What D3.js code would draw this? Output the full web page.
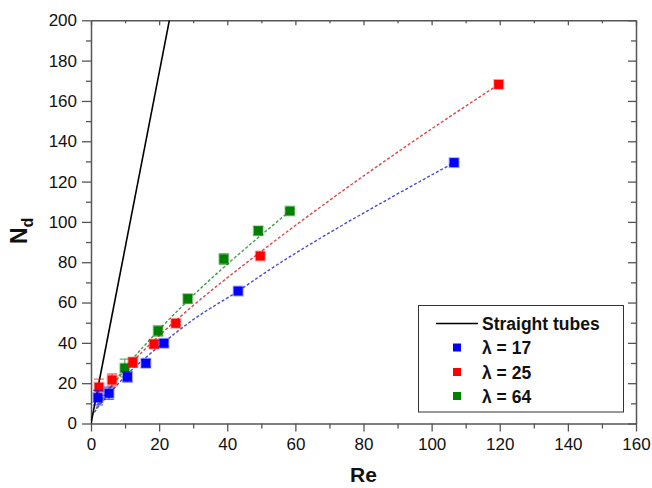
<!DOCTYPE html>
<html><head><meta charset="utf-8">
<script src="https://cdn.jsdelivr.net/npm/d3@7"></script>
<style>body{margin:0;background:#fff}svg{display:block}text{font-family:"Liberation Sans",Arial,sans-serif}</style>
</head><body><svg id="c" width="652" height="488"></svg>
<script>
// ---- data ----
const xTicks = [0, 20, 40, 60, 80, 100, 120, 140, 160];
const yTicks = [0, 20, 40, 60, 80, 100, 120, 140, 160, 180, 200];
const xMinor = [10, 30, 50, 70, 90, 110, 130, 150];
const yMinor = [10, 30, 50, 70, 90, 110, 130, 150, 170, 190];

const straightRe = [0, 23.0];
const straightNd = [0, 200];

const reBlue = [2.05, 5.3, 10.7, 16.1, 21.4, 43.2, 106.6];
const ndBlue = [12.8, 15.0, 23.1, 29.9, 39.8, 65.7, 129.4];
const errBlue = [3.6, 3, 2.5, 1.8, 1.5, 0, 0];

const reRed = [2.35, 6.2, 12.3, 18.5, 24.9, 49.7, 119.7];
const ndRed = [18.0, 21.6, 30.3, 39.4, 49.7, 83.1, 168.2];
const errRed = [4, 3, 2.5, 2, 0.8, 0, 0];

const reGreen = [9.9, 19.7, 28.4, 39.0, 49.1, 58.4];
const ndGreen = [27.5, 45.9, 61.9, 81.6, 95.6, 105.4];
const errGreen = [4.4, 2.5, 2.2, 2.5, 2, 1];

const fitBlueRe = [1.0, 2.0, 5, 10, 20, 30, 43.2, 52.6, 70.2, 88, 106.6];
const fitBlueNd = [5.5, 8.0, 14, 23.3, 38.3, 51.5, 65.7, 76.5, 94.8, 112, 129.4];
const fitRedRe = [1.5, 3, 10, 20, 30, 46.7, 70.2, 95, 119.7];
const fitRedNd = [7.5, 11.5, 26.5, 43.5, 58.5, 81.1, 110.9, 140.4, 168.2];
const fitGreenRe = [1.5, 5, 10, 20, 30, 40, 50, 58.4];
const fitGreenNd = [7.2, 16.3, 27.5, 46.5, 63.5, 79, 93.5, 105.4];

const legendLabels = ["Straight tubes", "\u03bb = 17", "\u03bb = 25", "\u03bb = 64"];
const colBlue = "#0000ff", colRed = "#ff0000", colGreen = "#008000";

// ---- chart ----
const svg = d3.select("#c");
const L = 91, R = 636, T = 20.3, B = 423.5;
const x = d3.scaleLinear().domain([0, 160]).range([L, R]);
const y = d3.scaleLinear().domain([0, 200]).range([B, T]);
const axCol = "#555";

function styleAxis(g){
  g.select(".domain").attr("stroke", axCol).attr("stroke-width", 1.5);
  g.selectAll(".tick line").attr("stroke", axCol).attr("stroke-width", 1.3);
  g.selectAll(".tick text").attr("fill", "#111").style("font-size", "17px").style("font-family", "Liberation Sans, Arial, sans-serif");
}
// bottom
const gb = svg.append("g").attr("transform", `translate(0,${B})`)
  .call(d3.axisBottom(x).tickValues(xTicks).tickSize(8).tickSizeOuter(0).tickPadding(6));
styleAxis(gb);
svg.append("g").attr("transform", `translate(0,${B})`)
  .call(d3.axisBottom(x).tickValues(xMinor).tickSize(5).tickFormat("")).call(g=>{g.select(".domain").remove();g.selectAll("line").attr("stroke",axCol).attr("stroke-width",1.3);});
// left
const gl = svg.append("g").attr("transform", `translate(${L},0)`)
  .call(d3.axisLeft(y).tickValues(yTicks).tickSize(9).tickSizeOuter(0).tickPadding(5));
styleAxis(gl);
svg.append("g").attr("transform", `translate(${L},0)`)
  .call(d3.axisLeft(y).tickValues(yMinor).tickSize(5).tickFormat("")).call(g=>{g.select(".domain").remove();g.selectAll("line").attr("stroke",axCol).attr("stroke-width",1.3);});
// top (inward)
const gt = svg.append("g").attr("transform", `translate(0,${T})`)
  .call(d3.axisBottom(x).tickValues(xTicks).tickSize(5).tickSizeOuter(0).tickFormat(""));
styleAxis(gt);
svg.append("g").attr("transform", `translate(0,${T})`)
  .call(d3.axisBottom(x).tickValues(xMinor).tickSize(3).tickFormat("")).call(g=>{g.select(".domain").remove();g.selectAll("line").attr("stroke",axCol).attr("stroke-width",1.3);});
// right (inward)
const gr = svg.append("g").attr("transform", `translate(${R},0)`)
  .call(d3.axisLeft(y).tickValues(yTicks).tickSize(8).tickSizeOuter(0).tickFormat(""));
styleAxis(gr);
svg.append("g").attr("transform", `translate(${R},0)`)
  .call(d3.axisLeft(y).tickValues(yMinor).tickSize(5).tickFormat("")).call(g=>{g.select(".domain").remove();g.selectAll("line").attr("stroke",axCol).attr("stroke-width",1.3);});

// axis titles
svg.append("text").attr("x", (L + R) / 2).attr("y", 482).attr("text-anchor", "middle")
  .style("font-size", "21px").style("font-weight", "bold").attr("fill", "#111").text("Re");
const yl = svg.append("text").attr("transform", `translate(27,${(T + B) / 2 + 9}) rotate(-90)`)
  .attr("text-anchor", "middle").style("font-weight", "bold").attr("fill", "#111");
yl.append("tspan").style("font-size", "23px").text("N");
yl.append("tspan").style("font-size", "16px").attr("dy", 6).text("d");

// plot clip
svg.append("clipPath").attr("id", "clip").append("rect").attr("x", L).attr("y", T).attr("width", R - L).attr("height", B - T);
const plot = svg.append("g").attr("clip-path", "url(#clip)");

const line = d3.line().x(d => x(d[0])).y(d => y(d[1]));
// straight tubes
plot.append("path").datum(d3.zip(straightRe, straightNd)).attr("d", line)
  .attr("fill", "none").attr("stroke", "#000").attr("stroke-width", 1.6);

// fit lines
[[fitBlueRe, fitBlueNd, "#4a4ad8"], [fitRedRe, fitRedNd, "#d84a4a"], [fitGreenRe, fitGreenNd, "#4a9a4a"]].forEach(([rx, ny, c]) => {
  plot.append("path").datum(d3.zip(rx, ny)).attr("d", d3.line().curve(d3.curveMonotoneX).x(d => x(d[0])).y(d => y(d[1])))
    .attr("fill", "none").attr("stroke", c).attr("stroke-width", 1.4).attr("stroke-dasharray", "3,2");
});

// points with error bars
function series(rx, ny, er, c){
  const g = plot.append("g");
  const d = d3.zip(rx, ny, er);
  d.filter(p => p[2] > 0).forEach(p => {
    g.append("line").attr("x1", x(p[0])).attr("x2", x(p[0])).attr("y1", y(p[1] - p[2])).attr("y2", y(p[1] + p[2]))
      .attr("stroke", c).attr("stroke-opacity", 0.6).attr("stroke-width", 1.2);
    [p[1] - p[2], p[1] + p[2]].forEach(v => g.append("line").attr("x1", x(p[0]) - 5).attr("x2", x(p[0]) + 5)
      .attr("y1", y(v)).attr("y2", y(v)).attr("stroke", c).attr("stroke-opacity", 0.6).attr("stroke-width", 1.2));
  });
  g.selectAll("rect").data(d).join("rect")
    .attr("x", p => x(p[0]) - 4.5).attr("y", p => y(p[1]) - 4.5).attr("width", 9).attr("height", 9)
    .attr("fill", c).attr("stroke", c).attr("stroke-opacity", 0.35).attr("stroke-width", 2);
}
series(reGreen, ndGreen, errGreen, colGreen);
series(reRed, ndRed, errRed, colRed);
series(reBlue, ndBlue, errBlue, colBlue);

// legend
const lg = svg.append("g");
lg.append("rect").attr("x", 418.5).attr("y", 305.5).attr("width", 205).attr("height", 106.5)
  .attr("fill", "#fff").attr("stroke", "#333").attr("stroke-width", 1);
lg.append("line").attr("x1", 436).attr("x2", 478).attr("y1", 323.5).attr("y2", 323.5).attr("stroke", "#000").attr("stroke-width", 1.5);
const rows = [329.5, 354, 378.5, 402.5];
const legCols = [null, colBlue, colRed, colGreen];
legendLabels.forEach((t, i) => {
  lg.append("text").attr("x", 482).attr("y", rows[i]).style("font-size", "17.5px").style("font-weight", "bold").attr("fill", "#111").text(t);
  if (legCols[i]) lg.append("rect").attr("x", 453).attr("y", rows[i] - 10.5).attr("width", 8).attr("height", 8).attr("fill", legCols[i]);
});
</script></body></html>
